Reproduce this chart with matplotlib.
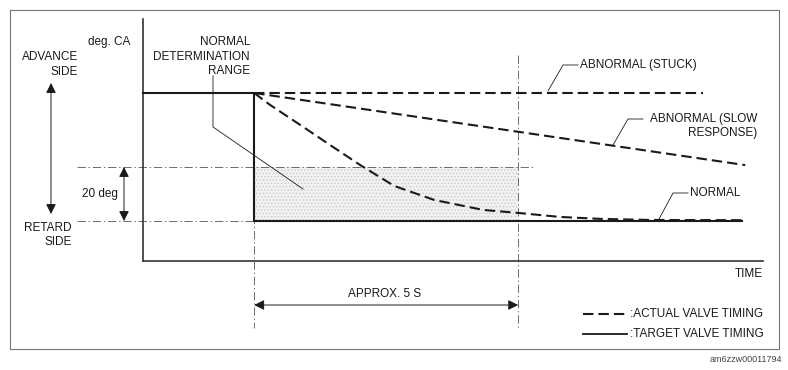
import matplotlib
matplotlib.use("Agg")
import matplotlib.pyplot as plt
from matplotlib.transforms import blended_transform_factory

plt.rcParams['font.family'] = ['Liberation Sans', 'DejaVu Sans']
plt.rcParams['lines.scale_dashes'] = False
plt.rcParams['hatch.linewidth'] = 0.5

# data: time in s, angle in deg. CA (retard side = 0)
advance_deg = 47.4
range_deg = 20
approx_s = 5

target_t = [-2.1, 0, 0, 9.24]
target_y = [advance_deg, advance_deg, 0, 0]

stuck_t = [0, 8.5]
stuck_y = [advance_deg, advance_deg]

slow_t = [0, 9.3]
slow_y = [advance_deg, 20.7]

normal_t = [0, 0.30, 0.87, 1.44, 2.01, 2.65, 3.41, 4.34, 5.0, 5.80, 6.55, 7.5, 9.24]
normal_y = [47.4, 43.0, 35.6, 28.1, 20.7, 13.0, 7.8, 4.1, 3.0, 1.5, 0.8, 0.4, 0.3]

ink = '#1a1a1a'
dashed = (0, (7.5, 3.6))
dashdot = (0, (6, 2, 1, 2))
fs = 8.5

fig = plt.figure(figsize=(7.88, 3.70), dpi=100)

# main chart axes
ax = fig.add_axes([143 / 788, 109 / 370, 620 / 788, 242 / 370])
ax.set_xlim(-2.106, 9.636)
ax.set_ylim(-14.8, 74.8)
ax.patch.set_visible(False)
for s in ['top', 'right']:
    ax.spines[s].set_visible(False)
for s in ['left', 'bottom']:
    ax.spines[s].set_linewidth(1.2)
    ax.spines[s].set_color('#333333')
ax.set_xticks([])
ax.set_yticks([])

# overlay in pixel coordinates for the drawing frame and labels
ov = fig.add_axes([0, 0, 1, 1])
ov.set_xlim(0, 788)
ov.set_ylim(370, 0)
ov.axis('off')
ov.patch.set_visible(False)

px_y = blended_transform_factory(ov.transData, ax.transData)   # x in pixels, y in deg
t_py = blended_transform_factory(ax.transData, ov.transData)   # x in s, y in pixels

# normal determination range
ax.fill_between([0, approx_s], 0, range_deg, facecolor='#f1f1f1',
                hatch='.....', edgecolor='#c4c4c4', linewidth=0, zorder=1)

# dash-dot guide lines
ax.plot([77, 533], [range_deg, range_deg], transform=px_y, color='#555555',
        lw=0.6, ls=dashdot, clip_on=False, zorder=2)
ax.plot([77, 254], [0, 0], transform=px_y, color='#555555',
        lw=0.6, ls=dashdot, clip_on=False, zorder=2)
ax.plot([0, 0], [93, 328], transform=t_py, color='#555555',
        lw=0.6, ls=dashdot, clip_on=False, zorder=2)
ax.plot([approx_s, approx_s], [55, 328], transform=t_py, color='#555555',
        lw=0.6, ls=dashdot, clip_on=False, zorder=2)

# target and actual valve timing
ax.plot(target_t, target_y, color=ink, lw=1.5, zorder=4, clip_on=False)
ax.plot(stuck_t, stuck_y, color=ink, lw=1.5, ls=dashed, zorder=5)
ax.plot(slow_t, slow_y, color=ink, lw=1.5, ls=dashed, zorder=5)
ax.plot(normal_t, normal_y, color=ink, lw=1.5, ls=dashed, zorder=5)

arrow = dict(arrowstyle='<|-|>', mutation_scale=15, lw=0.7, color=ink,
             shrinkA=0, shrinkB=0)

# 20 deg arrow
ax.annotate('', xy=(124, 0), xytext=(124, range_deg),
            xycoords=px_y, textcoords=px_y, arrowprops=arrow)
# approx 5 s arrow
ax.annotate('', xy=(0, 305), xytext=(approx_s, 305),
            xycoords=t_py, textcoords=t_py, arrowprops=arrow)
# advance / retard arrow
ov.annotate('', xy=(51, 83), xytext=(51, 214), arrowprops=arrow)

# leader lines
leaders = [
    ([213, 213, 303], [76, 127, 189]),
    ([548, 563, 578], [91, 65, 65]),
    ([613, 628, 643], [145, 119, 119]),
    ([658, 673, 688], [221, 193, 193]),
]
for lx, ly in leaders:
    ov.plot(lx, ly, color=ink, lw=0.6)

# texts
texts = [
    ('deg. CA', 130, 42, 'right'),
    ('NORMAL', 250, 42, 'right'),
    ('DETERMINATION', 250, 57, 'right'),
    ('RANGE', 250, 71, 'right'),
    ('ADVANCE', 78, 57, 'right'),
    ('SIDE', 78, 72, 'right'),
    ('RETARD', 72, 228, 'right'),
    ('SIDE', 72, 242, 'right'),
    ('20 deg', 82, 194, 'left'),
    ('ABNORMAL (STUCK)', 580, 65, 'left'),
    ('ABNORMAL (SLOW', 757, 119, 'right'),
    ('RESPONSE)', 757, 133, 'right'),
    ('NORMAL', 690, 193, 'left'),
    ('TIME', 763, 274, 'right'),
    ('APPROX. 5 S', 385, 294, 'center'),
    (':ACTUAL VALVE TIMING', 630, 314, 'left'),
    (':TARGET VALVE TIMING', 630, 334, 'left'),
]
for s, x, y, ha in texts:
    ov.text(x, y, s, ha=ha, va='center', fontsize=fs, color=ink)

# legend samples
ov.plot([583, 627], [314, 314], color=ink, lw=1.5, ls=dashed)
ov.plot([583, 627], [334, 334], color=ink, lw=1.3)

# frame and figure id
ov.plot([10, 779, 779, 10, 10], [10, 10, 349, 349, 10], color='#777777', lw=0.8)
ov.text(782, 360, 'am6zzw00011794', ha='right', va='center', fontsize=6.5, color='#444444')

fig.savefig('out.png', dpi=100)
